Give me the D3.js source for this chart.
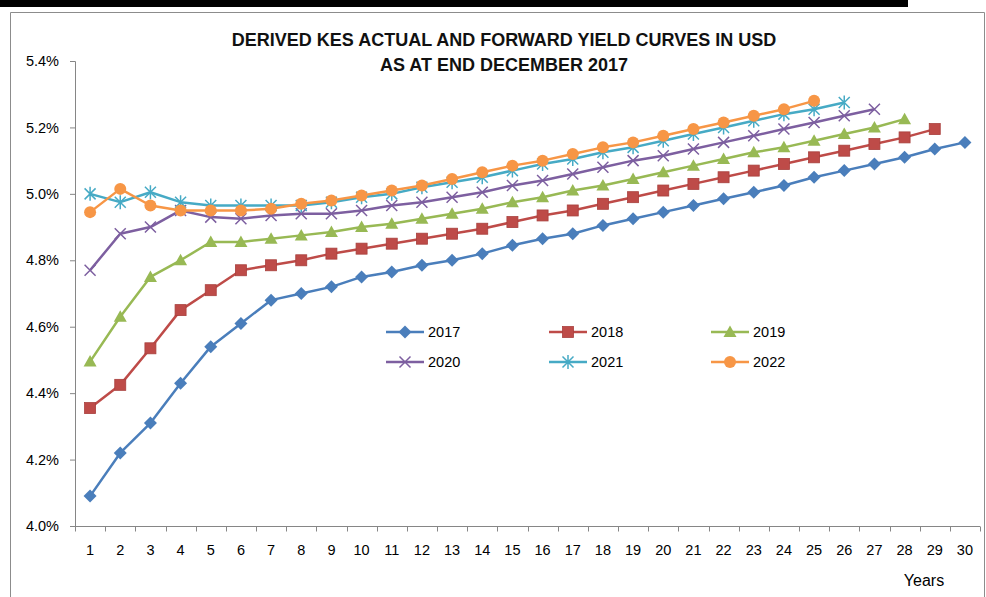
<!DOCTYPE html>
<html><head><meta charset="utf-8">
<script src="https://cdn.jsdelivr.net/npm/d3@7"></script>
<style>body{margin:0;background:#fff}svg{display:block}</style>
</head><body>
<svg id="c" width="986" height="597"></svg>
<script>
const years = d3.range(1, 31);
const yTicks = [4.0, 4.2, 4.4, 4.6, 4.8, 5.0, 5.2, 5.4];
const seriesNames = ["2017", "2018", "2019", "2020", "2021", "2022"];
const s2017 = [4.09,4.22,4.31,4.43,4.54,4.61,4.68,4.70,4.72,4.75,4.765,4.785,4.80,4.82,4.845,4.865,4.88,4.905,4.925,4.945,4.965,4.985,5.005,5.025,5.05,5.07,5.09,5.11,5.135,5.155];
const s2018 = [4.355,4.425,4.535,4.65,4.71,4.77,4.785,4.80,4.82,4.835,4.85,4.865,4.88,4.895,4.915,4.935,4.95,4.97,4.99,5.01,5.03,5.05,5.07,5.09,5.11,5.13,5.15,5.17,5.195];
const s2019 = [4.495,4.63,4.75,4.80,4.855,4.855,4.865,4.875,4.885,4.90,4.91,4.925,4.94,4.955,4.975,4.99,5.01,5.025,5.045,5.065,5.085,5.105,5.125,5.14,5.16,5.18,5.20,5.225];
const s2020 = [4.77,4.88,4.90,4.95,4.93,4.925,4.935,4.94,4.94,4.95,4.965,4.975,4.99,5.005,5.025,5.04,5.06,5.08,5.10,5.115,5.135,5.155,5.175,5.195,5.215,5.235,5.255];
const s2021 = [5.0,4.975,5.005,4.975,4.965,4.965,4.965,4.965,4.975,4.99,5.0,5.02,5.035,5.05,5.07,5.09,5.105,5.125,5.14,5.16,5.18,5.20,5.22,5.24,5.255,5.275];
const s2022 = [4.945,5.015,4.965,4.95,4.95,4.95,4.955,4.97,4.98,4.995,5.01,5.025,5.045,5.065,5.085,5.10,5.12,5.14,5.155,5.175,5.195,5.215,5.235,5.255,5.28];
const seriesValues = [s2017, s2018, s2019, s2020, s2021, s2022];
const colors = ["#4A7EBB", "#BE4B48", "#98B954", "#7D5FA0", "#46AAC5", "#F79646"];
const markers = ["diamond", "square", "triangle", "x", "asterisk", "circle"];

const svg = d3.select("#c");
const font = "'Liberation Sans', Arial, sans-serif";
const narrow = "'Liberation Sans Narrow', 'Arial Narrow', 'Liberation Sans', sans-serif";

// top black bar and frame
svg.append("rect").attr("x",0).attr("y",0).attr("width",908).attr("height",7).attr("fill","#000");
svg.append("path").attr("d","M10.5,597 V12.5 H984.5 V597").attr("fill","none").attr("stroke","#8c8c8c").attr("stroke-width",1);

const x0 = 75, x1 = 980, yTop = 61, yBot = 526;
const x = d3.scaleBand().domain(years).range([x0, x1]);
const y = d3.scaleLinear().domain([4.0, 5.4]).range([yBot, yTop]);
const xc = d => x(d) + x.bandwidth()/2;

// axes
const yAxis = d3.axisLeft(y).tickValues(yTicks).tickSize(5).tickPadding(11).tickFormat(d => d.toFixed(1) + "%");
const gy = svg.append("g").attr("transform", `translate(${x0},0)`).call(yAxis);
gy.select(".domain").attr("stroke","#868686").attr("d", `M-5,${yTop+0.5}H0.5V${yBot}`);
gy.selectAll(".tick line").attr("stroke","#868686");
gy.selectAll("text").attr("font-family",font).attr("font-size",14.5).attr("fill","#000");

const gx = svg.append("g").attr("transform", `translate(0,${yBot+0.5})`);
gx.append("line").attr("x1",x0).attr("x2",x1).attr("stroke","#868686");
const bounds = years.map(d => x(d)).concat([x1]);
gx.selectAll("line.t").data(bounds).enter().append("line").attr("class","t")
  .attr("x1", d=>Math.round(d)+0.5).attr("x2", d=>Math.round(d)+0.5).attr("y1",0).attr("y2",5).attr("stroke","#868686");
gx.selectAll("text").data(years).enter().append("text")
  .attr("x", d=>xc(d)).attr("y", 28).attr("text-anchor","middle")
  .attr("font-family",font).attr("font-size",14.5).text(d=>d);

svg.append("text").attr("x",924).attr("y",586).attr("text-anchor","middle")
  .attr("font-family",font).attr("font-size",16).text("Years");

// title
const title = svg.append("text").attr("text-anchor","middle").attr("font-family",narrow).attr("font-weight","bold").attr("font-size",18).attr("fill","#111");
title.append("tspan").attr("x",504).attr("y",46).text("DERIVED KES ACTUAL AND FORWARD YIELD CURVES IN USD");
title.append("tspan").attr("x",504).attr("y",71).text("AS AT END DECEMBER 2017");

function drawMarker(g, type, cx, cy, color) {
  if (type === "diamond") {
    g.append("path").attr("d", `M${cx},${cy-6.5}L${cx+6.5},${cy}L${cx},${cy+6.5}L${cx-6.5},${cy}Z`).attr("fill",color);
  } else if (type === "square") {
    g.append("rect").attr("x",cx-5.5).attr("y",cy-5.5).attr("width",11).attr("height",11).attr("fill",color).attr("stroke","#A8403D").attr("stroke-width",0.8);
  } else if (type === "triangle") {
    g.append("path").attr("d", `M${cx},${cy-6.5}L${cx+6.5},${cy+5}L${cx-6.5},${cy+5}Z`).attr("fill",color);
  } else if (type === "x") {
    g.append("path").attr("d", `M${cx-5.5},${cy-5.5}L${cx+5.5},${cy+5.5}M${cx+5.5},${cy-5.5}L${cx-5.5},${cy+5.5}`).attr("stroke",color).attr("stroke-width",1.5).attr("fill","none");
  } else if (type === "asterisk") {
    g.append("path").attr("d", `M${cx-5.5},${cy-5.5}L${cx+5.5},${cy+5.5}M${cx+5.5},${cy-5.5}L${cx-5.5},${cy+5.5}M${cx},${cy-7}L${cx},${cy+7}`).attr("stroke",color).attr("stroke-width",1.5).attr("fill","none");
  } else if (type === "circle") {
    g.append("circle").attr("cx",cx).attr("cy",cy).attr("r",6).attr("fill",color);
  }
}

const line = d3.line().x((d,i) => xc(years[i])).y(d => y(d));
seriesValues.forEach((vals, si) => {
  const g = svg.append("g");
  g.append("path").datum(vals).attr("d", line).attr("fill","none").attr("stroke",colors[si]).attr("stroke-width",2.5).attr("stroke-linejoin","round");
  vals.forEach((v,i) => drawMarker(g, markers[si], xc(years[i]), y(v), colors[si]));
});

// legend
const legCols = [386, 549, 711], legRows = [332, 362];
seriesNames.forEach((n, i) => {
  const lx = legCols[i % 3], ly = legRows[Math.floor(i / 3)];
  const g = svg.append("g");
  g.append("line").attr("x1",lx).attr("x2",lx+38).attr("y1",ly).attr("y2",ly).attr("stroke",colors[i]).attr("stroke-width",2.5);
  drawMarker(g, markers[i], lx+19, ly, colors[i]);
  g.append("text").attr("x",lx+42).attr("y",ly+5).attr("font-family",font).attr("font-size",14.5).text(n);
});
</script>
</body></html>
